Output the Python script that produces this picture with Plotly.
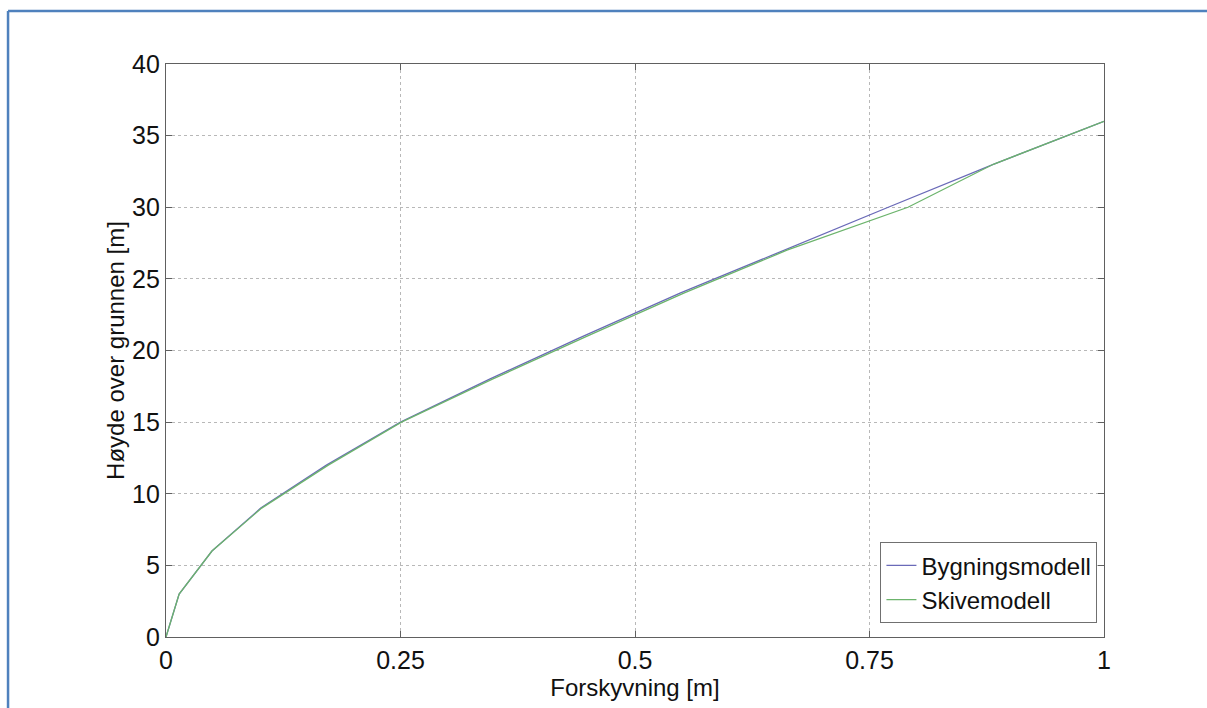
import plotly.graph_objects as go

# Data
heights = [0, 3, 6, 9, 12, 15, 18, 21, 24, 27, 30, 33, 36]
bygning_x = [0, 0.014, 0.049, 0.101, 0.171, 0.250, 0.345, 0.445, 0.548, 0.658, 0.770, 0.882, 1.0]
skive_x = [0, 0.014, 0.049, 0.102, 0.173, 0.251, 0.348, 0.449, 0.552, 0.662, 0.791, 0.882, 1.0]

x_ticks = [0, 0.25, 0.5, 0.75, 1]
x_ticklabels = ["0", "0.25", "0.5", "0.75", "1"]
y_ticks = [0, 5, 10, 15, 20, 25, 30, 35, 40]

FONT = "Liberation Sans, Arial, sans-serif"

fig = go.Figure()
fig.add_trace(go.Scatter(x=bygning_x, y=heights, mode="lines", name="Bygningsmodell",
                         line=dict(color="#6a6ab8", width=1.3)))
fig.add_trace(go.Scatter(x=skive_x, y=heights, mode="lines", name="Skivemodell",
                         line=dict(color="#6cb46c", width=1.3)))

axis_common = dict(
    showline=True, linecolor="#606060", linewidth=1.3, mirror="ticks",
    ticks="inside", ticklen=6, tickcolor="#606060", tickwidth=1,
    showgrid=True, gridcolor="#b8b8b8", griddash="dot", gridwidth=1,
    zeroline=False, tickfont=dict(family=FONT, size=25, color="#111"),
)

fig.update_xaxes(range=[0, 1], tickvals=x_ticks, ticktext=x_ticklabels,
                 title=dict(text="Forskyvning [m]", font=dict(family=FONT, size=24, color="#111"),
                            standoff=2),
                 ticklabelstandoff=1, **axis_common)
fig.update_yaxes(range=[0, 40], tickvals=y_ticks,
                 title=dict(text="Høyde over grunnen [m]", font=dict(family=FONT, size=24, color="#111"),
                            standoff=0),
                 ticklabelstandoff=0, **axis_common)

fig.update_layout(
    width=1207, height=708,
    margin=dict(l=166, r=103, t=64, b=71),
    paper_bgcolor="white", plot_bgcolor="white",
    showlegend=True,
    legend=dict(x=0.993, y=0.024, xanchor="right", yanchor="bottom",
                bgcolor="white", bordercolor="#707070", borderwidth=1,
                font=dict(family=FONT, size=24, color="#111"),
                tracegroupgap=0, itemwidth=30),
)

# Document frame (left and top edges)
fig.add_shape(type="line", xref="paper", yref="paper",
              x0=-0.1684, x1=-0.1684, y0=1.0925, y1=-0.2,
              line=dict(color="#4f81bd", width=2.5))
fig.add_shape(type="line", xref="paper", yref="paper",
              x0=-0.1684, x1=1.2, y0=1.0925, y1=1.0925,
              line=dict(color="#4f81bd", width=2.5))

fig.write_html("out.html")
